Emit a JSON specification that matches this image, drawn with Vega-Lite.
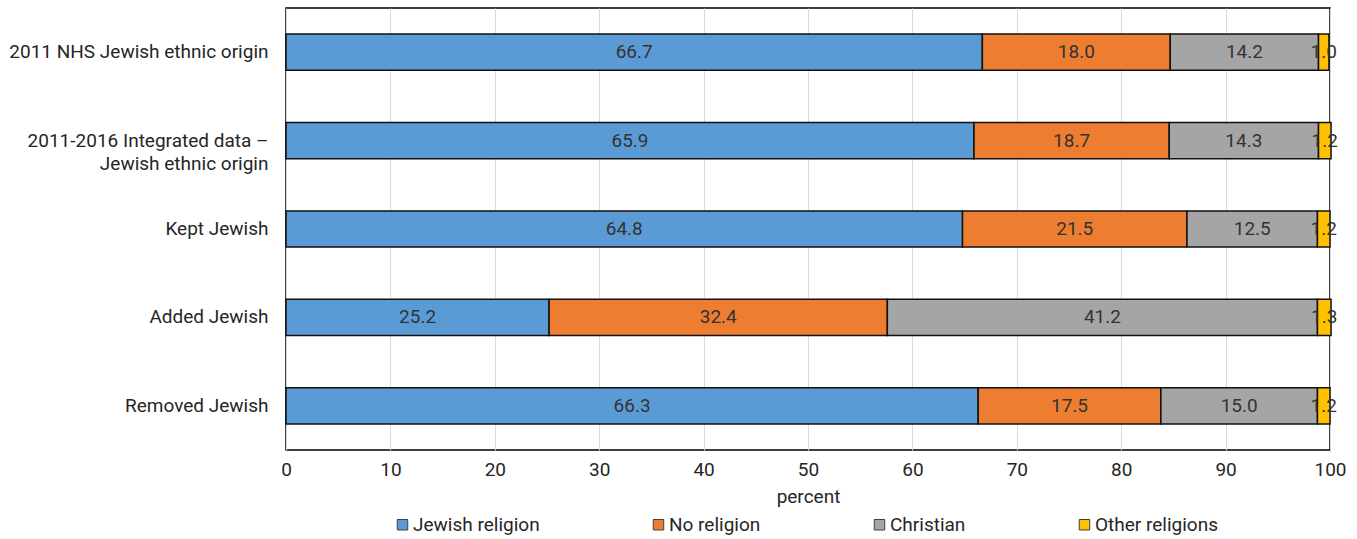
{
  "$schema": "https://vega.github.io/schema/vega-lite/v6.json",
  "width": 1044,
  "height": 442,
  "padding": {"left": 0, "top": 8, "right": 5, "bottom": 0},
  "background": "white",
  "config": {
    "font": "Roboto",
    "view": {"stroke": "#000000", "strokeWidth": 1.5},
    "axis": {"labelFont": "Roboto", "titleFont": "Roboto"},
    "legend": {"labelFont": "Roboto"},
    "text": {"font": "Roboto"}
  },
  "data": {
    "values": [
      {"group": "2011 NHS Jewish ethnic origin", "religion": "Jewish religion", "k": 1, "percent": 66.7},
      {"group": "2011 NHS Jewish ethnic origin", "religion": "No religion", "k": 2, "percent": 18.0},
      {"group": "2011 NHS Jewish ethnic origin", "religion": "Christian", "k": 3, "percent": 14.2},
      {"group": "2011 NHS Jewish ethnic origin", "religion": "Other religions", "k": 4, "percent": 1.0},
      {"group": "2011-2016 Integrated data –|Jewish ethnic origin", "religion": "Jewish religion", "k": 1, "percent": 65.9},
      {"group": "2011-2016 Integrated data –|Jewish ethnic origin", "religion": "No religion", "k": 2, "percent": 18.7},
      {"group": "2011-2016 Integrated data –|Jewish ethnic origin", "religion": "Christian", "k": 3, "percent": 14.3},
      {"group": "2011-2016 Integrated data –|Jewish ethnic origin", "religion": "Other religions", "k": 4, "percent": 1.2},
      {"group": "Kept Jewish", "religion": "Jewish religion", "k": 1, "percent": 64.8},
      {"group": "Kept Jewish", "religion": "No religion", "k": 2, "percent": 21.5},
      {"group": "Kept Jewish", "religion": "Christian", "k": 3, "percent": 12.5},
      {"group": "Kept Jewish", "religion": "Other religions", "k": 4, "percent": 1.2},
      {"group": "Added Jewish", "religion": "Jewish religion", "k": 1, "percent": 25.2},
      {"group": "Added Jewish", "religion": "No religion", "k": 2, "percent": 32.4},
      {"group": "Added Jewish", "religion": "Christian", "k": 3, "percent": 41.2},
      {"group": "Added Jewish", "religion": "Other religions", "k": 4, "percent": 1.3},
      {"group": "Removed Jewish", "religion": "Jewish religion", "k": 1, "percent": 66.3},
      {"group": "Removed Jewish", "religion": "No religion", "k": 2, "percent": 17.5},
      {"group": "Removed Jewish", "religion": "Christian", "k": 3, "percent": 15.0},
      {"group": "Removed Jewish", "religion": "Other religions", "k": 4, "percent": 1.2}
    ]
  },
  "encoding": {
    "y": {
      "field": "group",
      "type": "nominal",
      "sort": null,
      "title": null,
      "scale": {"paddingInner": 0.59, "paddingOuter": 0.295},
      "axis": {
        "ticks": false,
        "domain": false,
        "labelPadding": 18,
        "labelFontSize": 19,
        "labelColor": "#262626",
        "labelLineHeight": 23,
        "labelLimit": 0,
        "minExtent": 286,
        "maxExtent": 286,
        "labelExpr": "split(datum.label, '|')"
      }
    },
    "x": {
      "field": "percent",
      "type": "quantitative",
      "stack": "zero",
      "title": "percent",
      "scale": {"domain": [0, 100], "nice": false, "zero": true},
      "axis": {
        "values": [0, 10, 20, 30, 40, 50, 60, 70, 80, 90, 100],
        "ticks": false,
        "domain": false,
        "labelFlush": false,
        "gridColor": "#d9d9d9",
        "gridWidth": 1,
        "labelFontSize": 19,
        "labelColor": "#262626",
        "labelPadding": 10,
        "titleFontSize": 19,
        "titleFontWeight": "normal",
        "titleColor": "#262626",
        "titlePadding": 8
      }
    },
    "order": {"field": "k", "type": "quantitative"}
  },
  "layer": [
    {
      "mark": {"type": "bar", "stroke": "#111111", "strokeWidth": 1.5, "clip": false},
      "encoding": {
        "color": {
          "field": "religion",
          "type": "nominal",
          "sort": ["Jewish religion", "No religion", "Christian", "Other religions"],
          "scale": {
            "domain": ["Jewish religion", "No religion", "Christian", "Other religions"],
            "range": ["#5b9bd5", "#ed7d31", "#a5a5a5", "#ffc000"]
          },
          "legend": {
            "title": null,
            "orient": "none",
            "legendX": 107,
            "legendY": 507,
            "direction": "horizontal",
            "symbolType": "square",
            "symbolSize": 110,
            "symbolStrokeColor": "#404040",
            "symbolStrokeWidth": 1,
            "labelFontSize": 19,
            "labelColor": "#262626",
            "labelOffset": 1,
            "columnPadding": 109
          }
        }
      }
    },
    {
      "mark": {"type": "text", "fontSize": 19, "color": "#333333", "align": "center", "baseline": "middle"},
      "encoding": {
        "x": {"field": "percent", "type": "quantitative", "stack": "zero", "bandPosition": 0.5},
        "text": {"field": "percent", "type": "quantitative", "format": ".1f"}
      }
    }
  ]
}
